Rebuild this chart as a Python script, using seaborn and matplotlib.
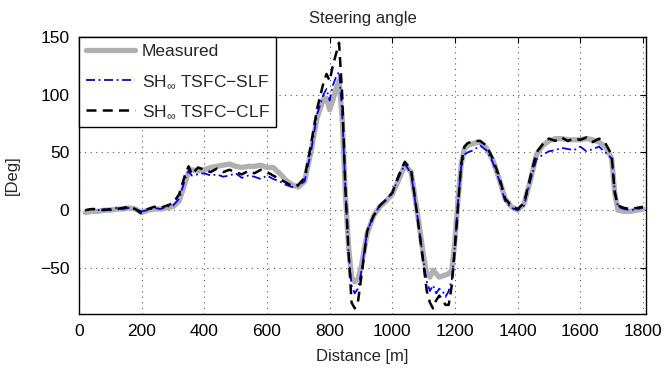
import numpy as np
import pandas as pd
import matplotlib
matplotlib.use("Agg")
import matplotlib.pyplot as plt
import seaborn as sns

# --- data (distance in m, angle in deg) ---
distance = [20, 40, 60, 80, 100, 120, 140, 160, 180, 200, 220, 240, 260, 280, 300,
            320, 340, 350, 360, 380, 400, 420, 440, 460, 480, 500, 520, 540, 560, 580,
            600, 620, 640, 660, 680, 700, 720, 740, 760, 780, 790, 800, 810, 820, 830,
            840, 850, 860, 870, 880, 890, 900, 920, 940, 960, 980, 1000, 1020, 1040, 1060,
            1080, 1100, 1110, 1120, 1130, 1140, 1150, 1160, 1170, 1180, 1190, 1200, 1210, 1220, 1230,
            1240, 1260, 1280, 1300, 1320, 1340, 1360, 1380, 1400, 1420, 1440, 1460, 1480, 1500, 1520,
            1540, 1560, 1580, 1600, 1620, 1640, 1660, 1680, 1700, 1710, 1720, 1740, 1760, 1780, 1800]

measured = [-2, -1, -1, 0, 0, 1, 1, 2, 1, -2, 0, 1, 1, 2, 3,
            8, 25, 33, 35, 34, 35, 37, 38, 39, 40, 38, 37, 38, 38, 39,
            37, 37, 32, 26, 22, 20, 25, 50, 80, 96, 97, 87, 95, 105, 112,
            80, 15, -30, -58, -62, -60, -50, -20, -5, 3, 8, 14, 26, 39, 33,
            -2, -40, -55, -58, -52, -55, -58, -57, -56, -55, -52, -26, 10, 40, 53,
            56, 58, 59, 54, 44, 28, 10, 3, 0, 5, 25, 48, 56, 60, 62,
            62, 61, 61, 61, 62, 61, 59, 55, 45, 15, 0, -1, -1, 0, 1]

slf = [0, 1, 0, 1, 0, 2, 1, 2, 1, -1, 0, 2, 1, 3, 4,
       10, 28, 34, 30, 31, 32, 30, 31, 29, 30, 32, 28, 30, 29, 27,
       30, 27, 25, 22, 20, 21, 25, 50, 83, 100, 105, 95, 108, 115, 120,
       85, 20, -35, -65, -72, -68, -55, -18, -5, 4, 9, 15, 28, 40, 32,
       -5, -45, -62, -70, -65, -72, -68, -70, -75, -70, -60, -30, 8, 38, 48,
       50, 52, 56, 52, 42, 27, 8, 2, 0, 4, 25, 44, 48, 51, 52,
       54, 53, 52, 55, 51, 53, 55, 50, 45, 18, 3, 1, 0, 1, 2]

clf = [0, 1, 1, 0, 1, 1, 2, 3, 1, -3, 1, 3, 2, 4, 6,
       14, 32, 38, 31, 37, 35, 33, 36, 33, 35, 33, 31, 34, 32, 35,
       33, 30, 27, 24, 21, 22, 28, 56, 88, 110, 118, 112, 125, 135, 145,
       100, 20, -35, -80, -85, -80, -60, -18, -5, 4, 9, 15, 30, 42, 35,
       -5, -48, -70, -80, -85, -78, -74, -78, -82, -82, -65, -32, 5, 40, 55,
       58, 60, 60, 56, 45, 30, 10, 4, 1, 6, 28, 50, 57, 62, 60,
       63, 60, 62, 61, 63, 59, 62, 58, 48, 15, 4, 2, 1, 2, 3]

df = pd.DataFrame({"distance": distance, "measured": measured, "slf": slf, "clf": clf})

sns.set_style("white")
plt.rcParams["font.family"] = ["Liberation Sans", "DejaVu Sans"]
plt.rcParams["mathtext.fontset"] = "custom"
plt.rcParams["mathtext.rm"] = "Liberation Sans"

fig = plt.figure(figsize=(6.64, 3.70), dpi=100)
ax = fig.add_axes([0.119, 0.151, 0.854, 0.749])

sns.lineplot(data=df, x="distance", y="measured", ax=ax, color="#b0b0b0",
             linewidth=3.8, label="Measured")
sns.lineplot(data=df, x="distance", y="slf", ax=ax, color="blue",
             linewidth=1.3, linestyle=(0, (5, 2, 1, 2)), label=r"SH$_{\infty}$ TSFC$-$SLF")
sns.lineplot(data=df, x="distance", y="clf", ax=ax, color="black",
             linewidth=1.8, linestyle=(0, (4, 2.5)), label=r"SH$_{\infty}$ TSFC$-$CLF")

ax.set_xlim(0, 1810)
ax.set_ylim(-90, 150)
ax.set_xticks(np.arange(0, 1801, 200))
ax.set_yticks([-50, 0, 50, 100, 150])
ax.set_yticklabels(["\u221250", "0", "50", "100", "150"])
ax.grid(True, linestyle=(0, (1, 4)), color="0.35", linewidth=0.8)
ax.tick_params(direction="in", length=4, top=True, right=True, labelsize=12.5,
               colors="black", width=0.8, pad=7)
for s in ax.spines.values():
    s.set_color("black")
    s.set_linewidth(1.0)

ax.set_title("Steering angle", fontsize=12, pad=10)
ax.set_xlabel("Distance [m]", fontsize=12, labelpad=7)
ax.set_ylabel("[Deg]", fontsize=12, labelpad=14)

leg = ax.legend(loc="upper left", borderaxespad=0, fancybox=False, framealpha=1,
                edgecolor="black", fontsize=12.5, handlelength=2.8, labelspacing=0.8,
                handletextpad=0.4)
leg.get_frame().set_linewidth(1.0)

fig.savefig("out.png", dpi=100)
